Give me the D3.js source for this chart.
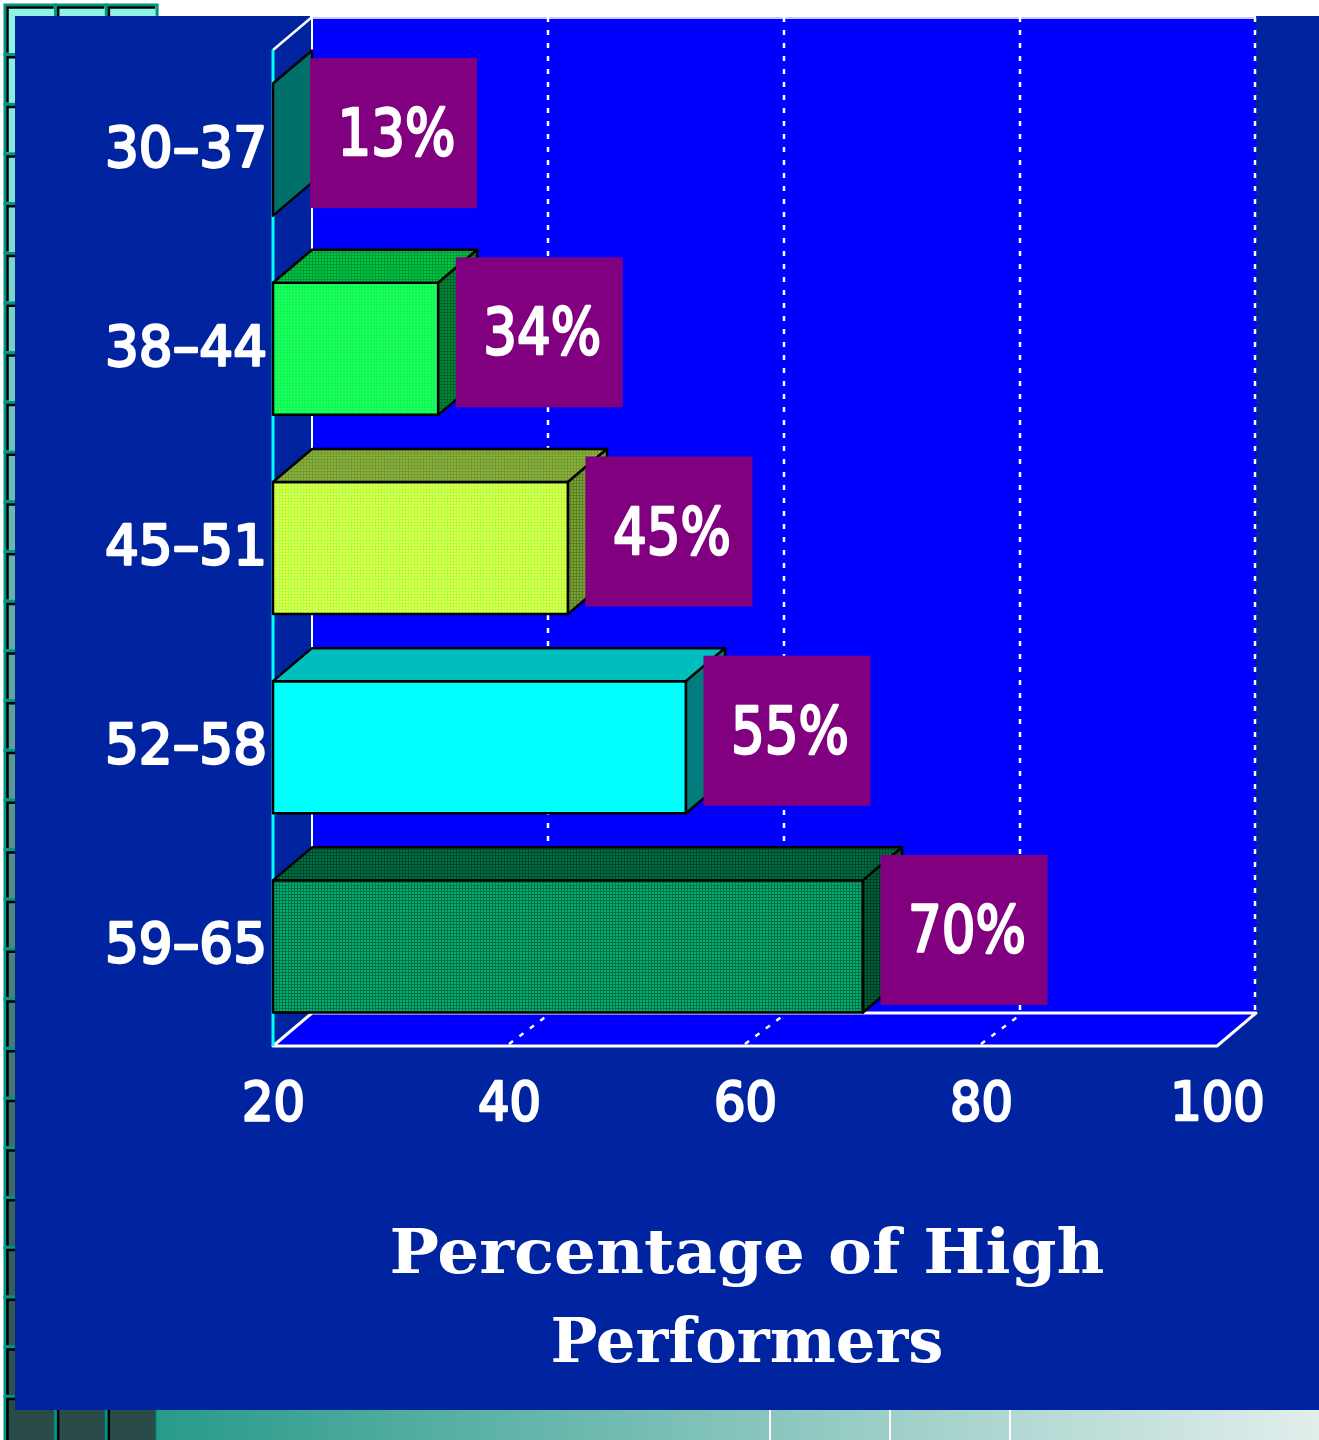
<!DOCTYPE html>
<html lang="en">
<head>
<meta charset="UTF-8">
<title>Percentage of High Performers</title>
<style>
  body { margin: 0; padding: 0; background: #fff; }
  svg { display: block; }
</style>
</head>
<body>
<script src="https://cdn.jsdelivr.net/npm/d3@7"></script>
<script>
  // age groups and share of high performers (%)
  const ageGroups = ['30–37', '38–44', '45–51', '52–58', '59–65'];
  const highPerformers = [13, 34, 45, 55, 70];
  const xTicks = [20, 40, 60, 80, 100];
  const gridTicks = [40, 60, 80, 100];
  const titleLines = ['Percentage of High', 'Performers'];

  const W = 1319, H = 1440;
  const svg = d3.select('body').append('svg')
    .attr('width', W)
    .attr('height', H);
  const defs = svg.append('defs');

  // fine dotted textures like the old office chart fills
  function hatch(id, bg, fg) {
    const p = defs.append('pattern').attr('id', id)
      .attr('width', 3).attr('height', 3)
      .attr('patternUnits', 'userSpaceOnUse');
    p.append('rect').attr('width', 3).attr('height', 3).attr('fill', bg);
    p.append('rect').attr('width', 3).attr('height', 1).attr('fill', fg);
    p.append('rect').attr('width', 1).attr('height', 3).attr('fill', fg);
    return `url(#${id})`;
  }

  const barStyles = [
    { front: '#008078', top: '#006a62', side: '#00706a' },
    { front: hatch('f2', '#00ff44', '#28f868'), top: hatch('t2', '#00c844', '#009a30'), side: hatch('s2', '#008a38', '#006428') },
    { front: hatch('f3', '#f0ff30', '#a8ff58'), top: hatch('t3', '#a0a828', '#60a040'), side: hatch('s3', '#80a028', '#588030') },
    { front: '#00ffff', top: '#00bebe', side: '#007c7c' },
    { front: hatch('f5', '#00b070', '#007048'), top: hatch('t5', '#007048', '#004a2c'), side: hatch('s5', '#006440', '#003c24') }
  ];

  // left decoration: grid of tiles fading from aqua to dark slate
  const deco = svg.append('g');
  const cellW = 50.7, cellH = 49.7;
  const shade = d3.scaleLinear().domain([0, 28]).range(['#8ef3e3', '#2b4b49']);
  d3.range(29).forEach(r => {
    [0, 1, 2].forEach(c => {
      const x = 5 + c * cellW, y = 5 + r * cellH;
      deco.append('rect')
        .attr('x', x).attr('y', y)
        .attr('width', cellW).attr('height', cellH)
        .attr('fill', shade(r))
        .attr('stroke', '#009484').attr('stroke-width', 3);
      deco.append('path')
        .attr('d', `M${x + 2.5},${y + cellH - 2}V${y + 2.5}H${x + cellW - 2}`)
        .attr('fill', 'none').attr('stroke', '#000').attr('stroke-width', 2.5);
    });
  });

  // bottom gradient strip
  const grad = defs.append('linearGradient').attr('id', 'strip');
  grad.append('stop').attr('offset', '0%').attr('stop-color', '#289a8a');
  grad.append('stop').attr('offset', '100%').attr('stop-color', '#e2eeec');
  svg.append('rect')
    .attr('x', 157).attr('y', 1410).attr('width', W - 157).attr('height', 30)
    .attr('fill', 'url(#strip)');
  [770, 890, 1010].forEach(x => {
    svg.append('line').attr('x1', x).attr('x2', x).attr('y1', 1410).attr('y2', 1440)
      .attr('stroke', '#fff').attr('stroke-width', 2);
  });

  // dark blue panel
  svg.append('rect')
    .attr('x', 15).attr('y', 16).attr('width', W - 15).attr('height', 1394)
    .attr('fill', '#0024a0');
  svg.append('rect')
    .attr('x', 310).attr('y', 0).attr('width', 946).attr('height', 19)
    .attr('fill', '#fff');

  // scales
  const dx = 39, dy = -33;
  const x = d3.scaleLinear().domain([20, 100]).range([273, 1217]);
  const y = d3.scaleBand().domain(ageGroups).range([50, 1046])
    .paddingInner(0.337).paddingOuter(0.1685);
  const yFront = 1046, yTop = 50;

  // back wall
  svg.append('rect')
    .attr('x', x(20) + dx).attr('y', yTop + dy)
    .attr('width', x(100) - x(20)).attr('height', yFront - yTop)
    .attr('fill', '#0000ff');
  svg.append('line')
    .attr('x1', x(20) + dx).attr('x2', x(100) + dx)
    .attr('y1', yTop + dy + 1).attr('y2', yTop + dy + 1)
    .attr('stroke', '#c8c8ff').attr('stroke-width', 2);
  svg.append('line')
    .attr('x1', x(20) + dx).attr('x2', x(20) + dx)
    .attr('y1', yTop + dy).attr('y2', yFront + dy)
    .attr('stroke', '#fff').attr('stroke-width', 2);

  // gridlines on the back wall and the floor
  svg.append('g').selectAll('line')
    .data(gridTicks)
    .join('line')
    .attr('x1', d => x(d) + dx - (d === 100 ? 1 : 0))
    .attr('x2', d => x(d) + dx - (d === 100 ? 1 : 0))
    .attr('y1', yTop + dy).attr('y2', yFront + dy)
    .attr('stroke', '#fff').attr('stroke-width', 2.5)
    .attr('stroke-dasharray', '5,8');

  // left wall top edge and axis line
  svg.append('line')
    .attr('x1', x(20)).attr('y1', yTop)
    .attr('x2', x(20) + dx).attr('y2', yTop + dy)
    .attr('stroke', '#fff').attr('stroke-width', 2.5);

  // floor
  svg.append('path')
    .attr('d', `M${x(20)},${yFront}L${x(20) + dx},${yFront + dy}H${x(100) + dx}L${x(100)},${yFront}Z`)
    .attr('fill', '#0000ff')
    .attr('stroke', '#fff').attr('stroke-width', 3)
    .attr('stroke-linejoin', 'round');
  svg.append('g').selectAll('line')
    .data(gridTicks.slice(0, 3))
    .join('line')
    .attr('x1', d => x(d)).attr('y1', yFront - 2)
    .attr('x2', d => x(d) + dx).attr('y2', yFront + dy + 2)
    .attr('stroke', '#fff').attr('stroke-width', 2.5)
    .attr('stroke-dasharray', '5,8');

  svg.append('line')
    .attr('x1', x(20)).attr('x2', x(20))
    .attr('y1', yTop).attr('y2', yFront)
    .attr('stroke', '#00ffff').attr('stroke-width', 3);

  // bars
  const bars = svg.append('g')
    .selectAll('g')
    .data(ageGroups.map((g, i) => ({ g, v: highPerformers[i], s: barStyles[i] })))
    .join('g')
    .attr('stroke', '#000')
    .attr('stroke-width', 2.5)
    .attr('stroke-linejoin', 'round');

  const bw = y.bandwidth();
  const xr = d => x(Math.max(d.v, 20));

  bars.filter(d => d.v > 20).append('rect')
    .attr('x', x(20))
    .attr('y', d => y(d.g))
    .attr('width', d => xr(d) - x(20))
    .attr('height', bw)
    .attr('fill', d => d.s.front);

  bars.filter(d => d.v > 20).append('path')
    .attr('d', d => {
      const t = y(d.g);
      return `M${x(20)},${t}L${x(20) + dx},${t + dy}H${xr(d) + dx}L${xr(d)},${t}Z`;
    })
    .attr('fill', d => d.s.top);

  bars.append('path')
    .attr('d', d => {
      const t = y(d.g), r = xr(d);
      return `M${r},${t}L${r + dx},${t + dy}V${t + bw + dy}L${r},${t + bw}Z`;
    })
    .attr('fill', d => d.s.side);

  const sans = 'DejaVu Sans, Verdana, sans-serif';

  // white text, regular face thickened with a thin outline
  function whiteText(sel, size) {
    sel.attr('fill', '#fff')
      .attr('stroke', '#fff')
      .attr('stroke-width', 2.6)
      .attr('stroke-linejoin', 'round')
      .attr('paint-order', 'stroke')
      .attr('font-family', sans)
      .attr('font-size', size)
      .attr('lengthAdjust', 'spacingAndGlyphs');
  }

  // value labels in purple boxes
  const boxW = 167, boxH = 150;
  const labels = svg.append('g')
    .selectAll('g')
    .data(ageGroups.map((g, i) => ({ g, v: highPerformers[i] })))
    .join('g')
    .attr('transform', d => {
      const left = Math.max(x(Math.max(d.v, 20)) + dx / 2 - 2, x(20) + dx - 2);
      const cy = y(d.g) + bw / 2 + dy / 2;
      return `translate(${left},${cy - boxH / 2})`;
    });
  labels.append('rect')
    .attr('width', boxW).attr('height', boxH)
    .attr('fill', '#800080');
  labels.append('text')
    .attr('x', boxW / 2 + 3)
    .attr('y', boxH / 2 + 22)
    .attr('text-anchor', 'middle')
    .call(whiteText, 64)
    .attr('textLength', 118)
    .text(d => d.v + '%');

  // category axis
  const yAxis = svg.append('g')
    .attr('transform', `translate(${x(20) - 6},0)`)
    .call(d3.axisLeft(y).tickSize(0).tickPadding(0));
  yAxis.select('.domain').remove();
  yAxis.selectAll('text')
    .attr('dy', 16)
    .call(whiteText, 56)
    .attr('textLength', 162);

  // value axis
  const xAxis = svg.append('g')
    .attr('transform', `translate(0,${yFront})`)
    .call(d3.axisBottom(x).tickValues(xTicks).tickSize(0).tickPadding(0));
  xAxis.select('.domain').remove();
  xAxis.selectAll('text')
    .attr('dy', 0)
    .attr('y', 74)
    .call(whiteText, 54)
    .attr('textLength', d => String(d).length * 31.5);

  // axis title
  const title = svg.append('text')
    .attr('text-anchor', 'middle')
    .attr('fill', '#fff')
    .attr('font-family', 'DejaVu Serif')
    .attr('font-weight', 'bold')
    .attr('font-size', 62);
  const titleWidths = [715, 393];
  title.selectAll('tspan')
    .data(titleLines)
    .join('tspan')
    .attr('x', (x(20) + x(100)) / 2 + 2)
    .attr('y', (d, i) => 1273 + i * 89)
    .attr('textLength', (d, i) => titleWidths[i])
    .attr('lengthAdjust', 'spacingAndGlyphs')
    .text(d => d);
</script>
</body>
</html>
